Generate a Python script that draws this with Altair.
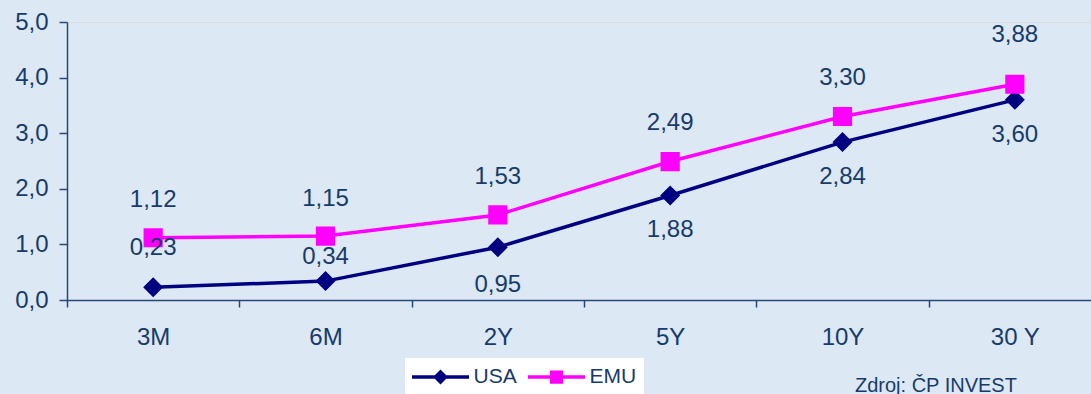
import altair as alt
import pandas as pd

# ---- data -------------------------------------------------------------
categories = ["3M", "6M", "2Y", "5Y", "10Y", "30 Y"]
usa_values = [0.23, 0.34, 0.95, 1.88, 2.84, 3.60]
emu_values = [1.12, 1.15, 1.53, 2.49, 3.30, 3.88]
series_names = ["USA", "EMU"]
y_ticks = [0, 1, 2, 3, 4, 5]
source_note = ["Zdroj: ČP INVEST"]

# ---- style ------------------------------------------------------------
series_colors = ["#000080", "#FF00FF"]
usa_label_dy = [-39, -24, 38, 35, 35, 35]
emu_label_dy = [-38, -37, -38, -39, -39, -49]
text_color = "#173b6b"
axis_color = "#28467a"
bg_color = "#dce8f4"
font = "Liberation Sans"

# custom symbol paths: a line segment with a marker in the middle
usa_path = "M-2.85,0H2.85M0,-0.5L0.5,0L0,0.5L-0.5,0Z"
emu_path = "M-2.85,0H2.85M-0.48,-0.48H0.48V0.48H-0.48Z"

rows = []
for i, c in enumerate(categories):
    rows.append({"cat": c, "series": "USA", "value": usa_values[i], "dy": usa_label_dy[i]})
    rows.append({"cat": c, "series": "EMU", "value": emu_values[i], "dy": emu_label_dy[i]})
df = pd.DataFrame(rows)

x_scale = alt.Scale(type="band", domain=categories, range=[0, 1034],
                    paddingInner=0, paddingOuter=0)
y_scale = alt.Scale(domain=[0, 5], nice=False, zero=True)

x_axis = alt.Axis(title=None, labelAngle=0, labelFontSize=24, labelColor=text_color,
                  labelFont=font, labelPadding=18, tickSize=7, tickBand="extent",
                  tickColor=axis_color, domainColor=axis_color, domainWidth=1.5,
                  tickWidth=1.5, grid=False)
y_axis = alt.Axis(title=None, values=y_ticks, labelFontSize=24, labelColor=text_color,
                  labelFont=font, labelPadding=11, tickSize=8, tickColor=axis_color,
                  domainColor=axis_color, domainWidth=1.5, tickWidth=1.5, grid=False,
                  labelExpr="replace(format(datum.value, '.1f'), '.', ',')")

legend = alt.Legend(title=None, orient="none", legendX=338, legendY=336,
                    direction="horizontal", fillColor="white", padding=7,
                    labelFontSize=21, labelColor=text_color, labelFont=font,
                    symbolSize=400, symbolStrokeWidth=3.5, symbolOffset=16.5,
                    labelOffset=21, columnPadding=4)

x_enc = alt.X("cat:N", sort=categories, scale=x_scale, axis=x_axis)
y_enc = alt.Y("value:Q", scale=y_scale, axis=y_axis)
color_enc = alt.Color("series:N", scale=alt.Scale(domain=series_names, range=series_colors),
                      legend=legend)
shape_enc = alt.Shape("series:N", scale=alt.Scale(domain=series_names, range=[usa_path, emu_path]),
                      legend=legend)

base = alt.Chart(df)

lines = base.mark_line(strokeWidth=3.5).encode(x=x_enc, y=y_enc, color=color_enc)

points = base.mark_point(filled=True, size=1600, strokeWidth=0, opacity=1).encode(
    x=x_enc, y=y_enc, color=color_enc, shape=shape_enc
)

label_layers = []
for d in sorted(set(usa_label_dy + emu_label_dy)):
    label_layers.append(
        base.transform_filter(alt.datum.dy == d).transform_calculate(
            label="replace(format(datum.value, '.2f'), '.', ',')"
        ).mark_text(fontSize=24, font=font, color=text_color, baseline="middle", dy=d).encode(
            x=x_enc, y=y_enc, text="label:N"
        )
    )

note = alt.Chart(pd.DataFrame({"t": source_note})).mark_text(
    fontSize=20, font=font, color=text_color, align="left", baseline="alphabetic"
).encode(text="t:N", x=alt.value(788), y=alt.value(370))

chart = alt.layer(lines, points, *label_layers, note).properties(
    width=1024, height=278,
    autosize=alt.AutoSizeParams(type="none"),
    padding={"left": 67, "top": 22, "right": 0, "bottom": 94},
    background=bg_color,
).configure_view(stroke=None).configure(font=font)

chart.save("out.html", embed_options={"renderer": "svg", "actions": False})
